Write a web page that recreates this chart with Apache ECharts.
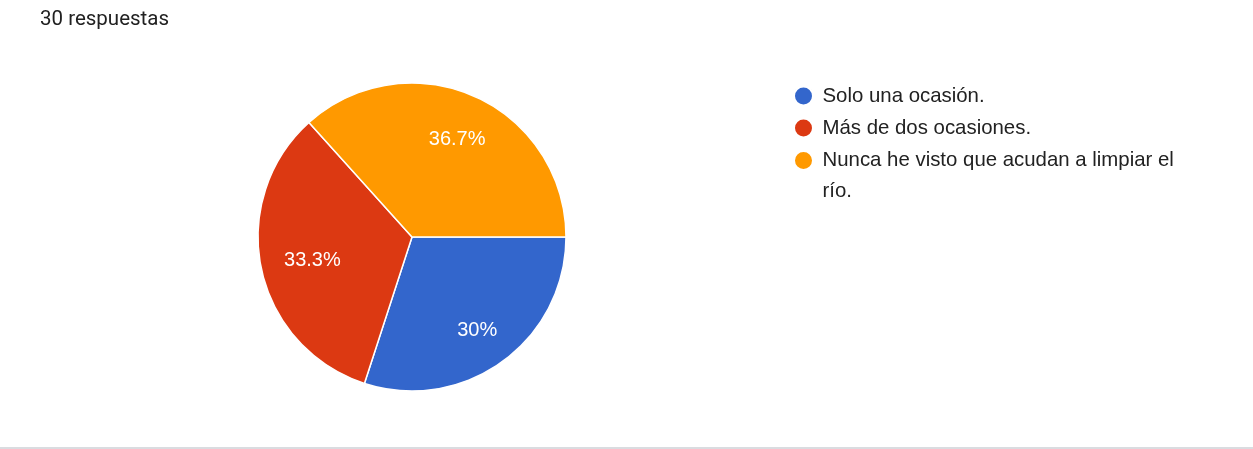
<!DOCTYPE html>
<html>
<head>
<meta charset="utf-8">
<script src="https://cdn.jsdelivr.net/npm/echarts@6/dist/echarts.min.js"></script>
<style>
  html, body { margin: 0; padding: 0; background: #fff; }
  #chart { width: 1253px; height: 449px; }
</style>
</head>
<body>
<div id="chart"></div>
<script>
const titleText = '30 respuestas';
const categories = ['Solo una ocasión.', 'Más de dos ocasiones.', 'Nunca he visto que acudan a limpiar el río.'];
const counts = [9, 10, 11];

const colors = ['#3366cc', '#dc3912', '#ff9900'];
const total = counts.reduce((a, b) => a + b, 0);
const pieData = categories.map((c, i) => ({ name: c, value: counts[i] }));
const labelPads = [[0, 0, 0, 0], [0, 0, 0, 18], [0, 0, 0, 0]];
const labelDrop = [true, false, true];
const labelData = pieData.map((d, i) => Object.assign({}, d, { label: { padding: labelPads[i] } }));
const fmtPct = p => {
  const v = Math.round(p.value / total * 1000) / 10;
  return (labelDrop[p.dataIndex] ? '\n' : '') + v + '%';
};
const SANS = '"Liberation Sans", Arial, Helvetica, sans-serif';
const TITLE_FONT = 'Roboto, "Noto Sans", Arial, sans-serif';

const chart = echarts.init(document.getElementById('chart'), null, { renderer: 'canvas' });
const legendCommon = {
  orient: 'vertical',
  padding: 0,
  icon: 'circle',
  itemWidth: 28,
  itemHeight: 19,
  selectedMode: false
};
chart.setOption({
  animation: false,
  color: colors,
  title: {
    text: titleText,
    left: 40, top: 9, padding: 0,
    textStyle: { fontFamily: TITLE_FONT, fontSize: 20.5, fontWeight: 'normal', color: '#212121' }
  },
  legend: [
    Object.assign({}, legendCommon, {
      left: 793, top: 84, itemGap: 8,
      data: [categories[0], categories[1]],
      textStyle: { fontFamily: SANS, fontSize: 20.4, color: '#222222', lineHeight: 24 }
    }),
    Object.assign({}, legendCommon, {
      left: 793, top: 114,
      data: [categories[2]],
      formatter: name => '\n' + name,
      textStyle: {
        fontFamily: SANS, fontSize: 20.4, color: '#222222', lineHeight: 31,
        width: 370, overflow: 'break'
      }
    })
  ],
  graphic: [{
    type: 'rect',
    shape: { x: 0, y: 447, width: 1253, height: 2 },
    style: { fill: '#dadce0' },
    silent: true
  }],
  series: [
    {
      type: 'pie',
      center: [412, 237],
      radius: [0, 154],
      startAngle: 0,
      clockwise: true,
      data: pieData,
      label: { show: false },
      labelLine: { show: false },
      itemStyle: { borderColor: '#ffffff', borderWidth: 1.5 },
      emphasis: { disabled: true }
    },
    {
      type: 'pie',
      center: [412, 237],
      radius: [62, 154],
      startAngle: 0,
      clockwise: true,
      silent: true,
      data: labelData,
      itemStyle: { color: 'rgba(0,0,0,0)', borderWidth: 0 },
      label: {
        show: true, position: 'inside', formatter: fmtPct,
        color: '#ffffff', fontFamily: SANS, fontSize: 20, lineHeight: 8
      },
      labelLine: { show: false },
      emphasis: { disabled: true }
    }
  ]
});
</script>
</body>
</html>
